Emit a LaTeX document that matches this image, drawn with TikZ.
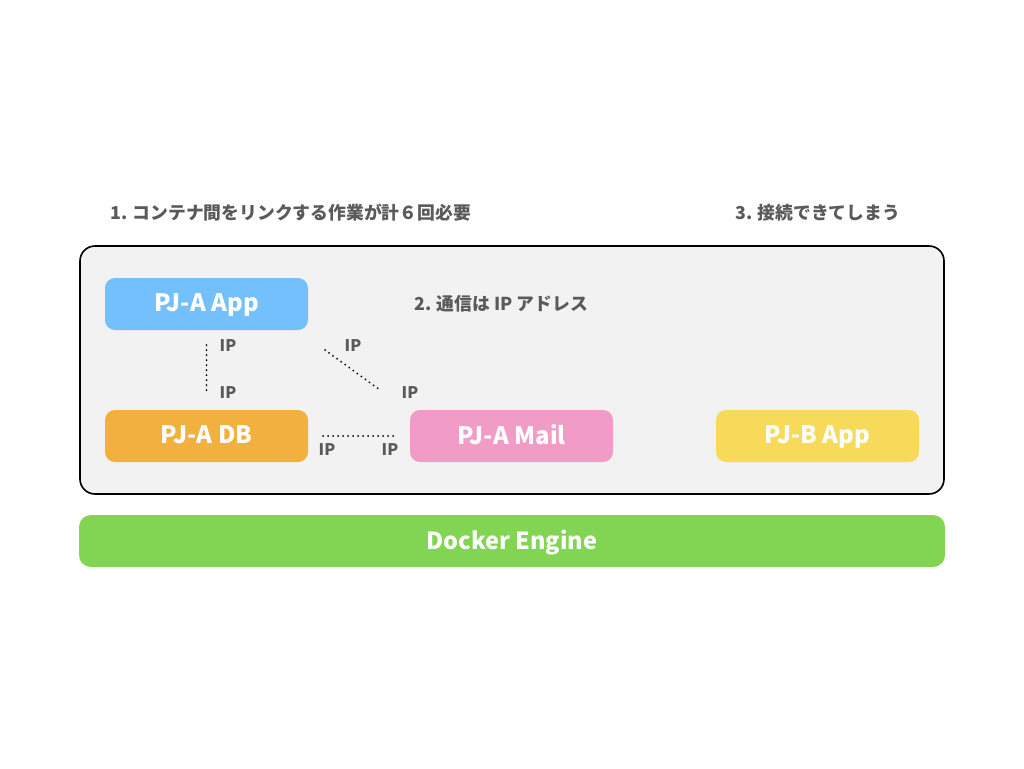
\documentclass[tikz,border=0pt]{standalone}
\usepackage{fontspec}
\setmainfont{Noto Sans CJK JP}
\definecolor{appblue}{HTML}{74C0FC}
\definecolor{dborange}{HTML}{F2B13E}
\definecolor{mailpink}{HTML}{F19BC7}
\definecolor{pjbyellow}{HTML}{F8DA5B}
\definecolor{enginegreen}{HTML}{82D552}
\definecolor{hostgray}{HTML}{F2F2F2}
\definecolor{labelgray}{HTML}{5A5A5A}
\tikzset{
  container/.style={rounded corners=10pt, minimum width=203pt, minimum height=52pt,
    text=white, font=\fontsize{24}{24}\selectfont\bfseries, inner sep=0pt,
    text depth=3pt},
  note/.style={text=labelgray, font=\fontsize{17.8}{18}\selectfont\bfseries, inner sep=0pt},
  iplabel/.style={text=labelgray, font=\fontsize{16}{16}\selectfont\bfseries, inner sep=0pt},
  ipline/.style={line width=2pt, line cap=round, dash pattern=on 0pt off 5pt}
}

\begin{document}
\begin{tikzpicture}[x=1pt,y=-1pt]
\useasboundingbox (0,0) rectangle (1024,768);

% host and engine
\draw[fill=hostgray, line width=1.6pt, rounded corners=15pt] (80,246) rectangle (944,494);
\node[container, fill=enginegreen, minimum width=866pt, rounded corners=12pt,
  font=\fontsize{23.5}{24}\selectfont\bfseries] (engine) at (512,541) {Docker Engine};

% containers
\node[container, fill=appblue] (app) at (206.5,304) {PJ-A App};
\node[container, fill=dborange] (db) at (206.5,436) {PJ-A DB};
\node[container, fill=mailpink] (mail) at (511.5,436) {PJ-A Mail};
\node[container, fill=pjbyellow] (pjb) at (817.5,436) {PJ-B App};

% notes
\node[note, anchor=west] (note1) at (110,213) {1. コンテナ間をリンクする作業が計６回必要};
\node[note, anchor=west] (note2) at (414,304) {2. 通信は IP アドレス};
\node[note, anchor=west] (note3) at (735,213) {3. 接続できてしまう};

% links
\coordinate (diagA) at (325,350);
\coordinate (diagB) at (380,390);
\draw[ipline, shorten <=15pt, shorten >=15pt] (app.south) -- (db.north);
\draw[ipline] (diagA) -- (diagB);
\draw[ipline, shorten <=15pt, shorten >=14pt] (db.east) -- (mail.west);

% ip labels
\node[iplabel] (ip1) at (228,346) {IP};
\node[iplabel] (ip2) at (228,393) {IP};
\node[iplabel] (ip3) at (353,346) {IP};
\node[iplabel] (ip4) at (410,393) {IP};
\node[iplabel] (ip5) at (327,450) {IP};
\node[iplabel] (ip6) at (390,450) {IP};

\end{tikzpicture}
\end{document}
